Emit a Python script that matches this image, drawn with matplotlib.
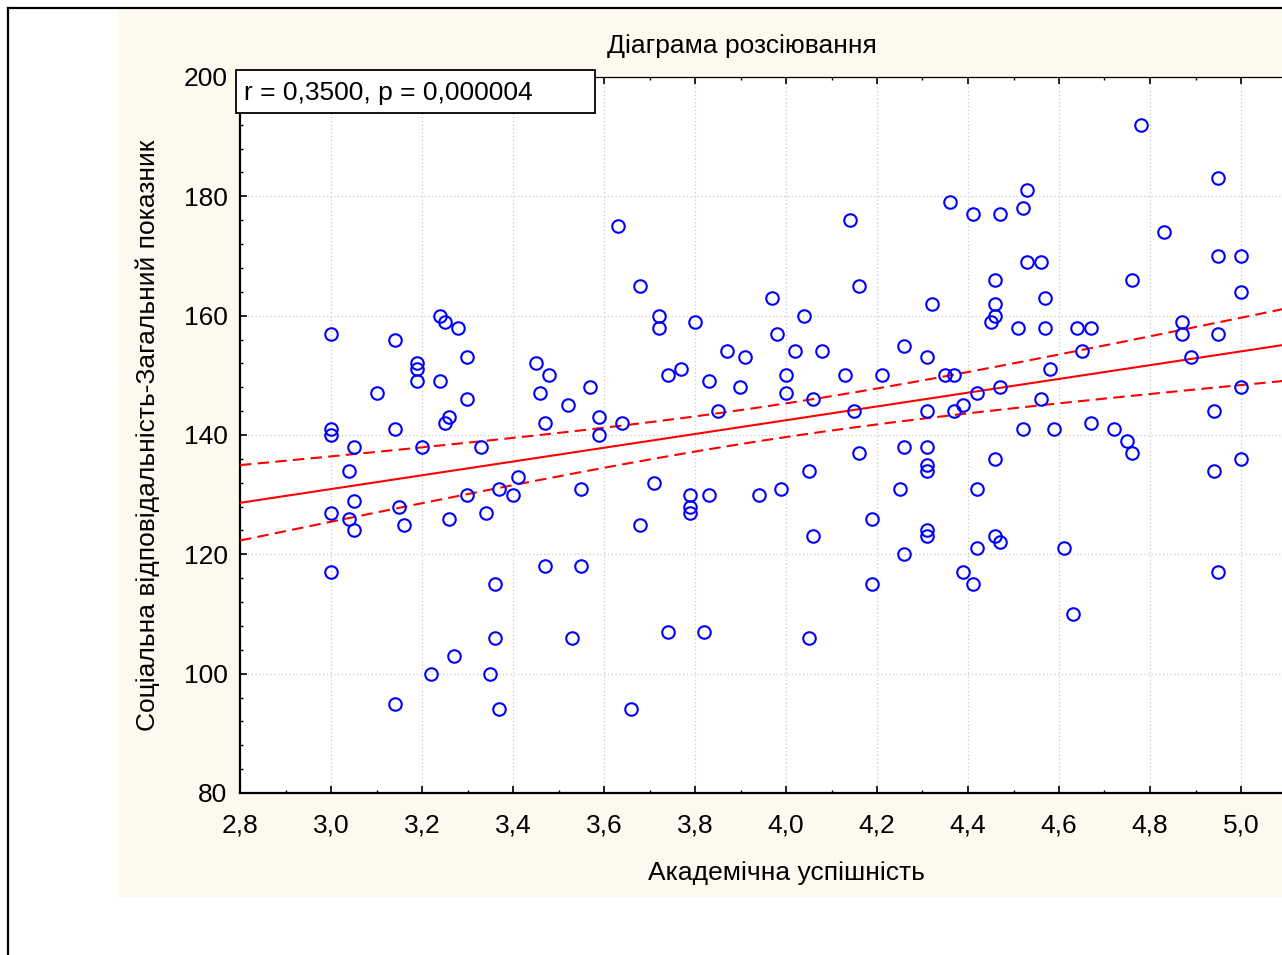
import numpy as np
import matplotlib
matplotlib.use("Agg")
import matplotlib.pyplot as plt
from matplotlib.lines import Line2D
from matplotlib.patches import Rectangle

plt.rcParams["font.family"] = ["Liberation Sans", "DejaVu Sans"]

TITLE     = "Діаграма розсіювання"
X_LABEL   = "Академічна успішність"
Y_LABEL   = "Соціальна відповідальність-Загальний показник"
STAT_TEXT = "r = 0,3500, p = 0,000004"

x_ticks       = [2.8, 3.0, 3.2, 3.4, 3.6, 3.8, 4.0, 4.2, 4.4, 4.6, 4.8, 5.0]
x_tick_labels = ["2,8", "3,0", "3,2", "3,4", "3,6", "3,8", "4,0", "4,2",
                 "4,4", "4,6", "4,8", "5,0"]
y_ticks       = [80, 100, 120, 140, 160, 180, 200]

# academic performance (x) and social responsibility score (y)
academic = [
    3.00, 3.00, 3.00, 3.00, 3.00, 3.04, 3.04, 3.05, 3.05, 3.05, 3.10,
    3.14, 3.14, 3.14, 3.15, 3.16, 3.19, 3.19, 3.19, 3.20, 3.22, 3.24, 3.24,
    3.25, 3.25, 3.26, 3.26, 3.27, 3.28, 3.30, 3.30, 3.30, 3.33, 3.34, 3.35,
    3.36, 3.36, 3.37, 3.37, 3.40, 3.41, 3.45, 3.46, 3.47, 3.47, 3.48, 3.52,
    3.53, 3.55, 3.55, 3.57, 3.59, 3.59, 3.63, 3.64, 3.66, 3.68, 3.68, 3.71,
    3.72, 3.72, 3.74, 3.74, 3.77, 3.79, 3.79, 3.79, 3.80, 3.82, 3.83, 3.83,
    3.85, 3.87, 3.90, 3.91, 3.94, 3.97, 3.98, 3.99, 4.00, 4.00, 4.02, 4.04,
    4.05, 4.05, 4.06, 4.06, 4.08, 4.13, 4.14, 4.15, 4.16, 4.16, 4.19, 4.19,
    4.21, 4.25, 4.26, 4.26, 4.26, 4.31, 4.31, 4.31, 4.31, 4.31, 4.31, 4.31,
    4.32, 4.35, 4.36, 4.37, 4.37, 4.39, 4.39, 4.41, 4.41, 4.42, 4.42, 4.42,
    4.45, 4.46, 4.46, 4.46, 4.46, 4.46, 4.47, 4.47, 4.47, 4.51, 4.52, 4.52,
    4.53, 4.53, 4.56, 4.56, 4.57, 4.57, 4.58, 4.59, 4.61, 4.63, 4.64, 4.65,
    4.67, 4.67, 4.72, 4.75, 4.76, 4.76, 4.78, 4.83, 4.87, 4.87, 4.89, 4.94,
    4.94, 4.95, 4.95, 4.95, 4.95, 5.00, 5.00, 5.00, 5.00,
]
social = [
    157, 141, 140, 127, 117, 134, 126, 138, 129, 124, 147,
    156, 141, 95, 128, 125, 152, 151, 149, 138, 100, 160, 149,
    159, 142, 143, 126, 103, 158, 153, 146, 130, 138, 127, 100,
    115, 106, 131, 94, 130, 133, 152, 147, 142, 118, 150, 145,
    106, 131, 118, 148, 143, 140, 175, 142, 94, 165, 125, 132,
    160, 158, 150, 107, 151, 130, 128, 127, 159, 107, 149, 130,
    144, 154, 148, 153, 130, 163, 157, 131, 150, 147, 154, 160,
    134, 106, 146, 123, 154, 150, 176, 144, 165, 137, 126, 115,
    150, 131, 155, 138, 120, 153, 144, 138, 135, 134, 124, 123,
    162, 150, 179, 150, 144, 145, 117, 177, 115, 147, 131, 121,
    159, 166, 162, 160, 136, 123, 177, 148, 122, 158, 178, 141,
    181, 169, 169, 146, 163, 158, 151, 141, 121, 110, 158, 154,
    158, 142, 141, 139, 166, 137, 192, 174, 159, 157, 153, 144,
    134, 183, 170, 157, 117, 170, 164, 148, 136,
]

T_CRIT = 1.974   # two-sided 95 % t quantile, n - 2 ~ 170 d.f.

W, H = 1282, 955
FS = 19


def fit_band(xs, ys, grid):
    xs = np.asarray(xs, float); ys = np.asarray(ys, float)
    slope, icpt = np.polyfit(xs, ys, 1)
    n = len(xs)
    resid = ys - (icpt + slope * xs)
    s = np.sqrt((resid ** 2).sum() / (n - 2))
    sxx = ((xs - xs.mean()) ** 2).sum()
    yhat = icpt + slope * grid
    half = T_CRIT * s * np.sqrt(1.0 / n + (grid - xs.mean()) ** 2 / sxx)
    return yhat, yhat - half, yhat + half


fig = plt.figure(figsize=(W / 100, H / 100), dpi=100)
fig.patch.set_facecolor("white")

# cream panel behind the graph + outer frame
fig.add_artist(Rectangle((118 / W, 1 - 897 / H), 1.0, (897 - 10) / H,
                         transform=fig.transFigure, facecolor="#fdf9ee",
                         edgecolor="none", zorder=-2))
fig.add_artist(Line2D([8 / W, 8 / W], [0, 1 - 8 / H], transform=fig.transFigure,
                      color="black", lw=1.6))
fig.add_artist(Line2D([8 / W, 1.0], [1 - 8 / H, 1 - 8 / H], transform=fig.transFigure,
                      color="black", lw=1.6))

ax = fig.add_axes([240 / W, 1 - 793 / H, 1092 / W, 716 / H])
ax.set_facecolor("white")
ax.set_xlim(2.8, 5.2); ax.set_ylim(80, 200)

grid = np.linspace(2.8, 5.2, 200)
yhat, lo, hi = fit_band(academic, social, grid)
ax.plot(grid, yhat, color="red", lw=1.5, zorder=3)
ax.plot(grid, lo, color="red", lw=1.5, ls=(0, (5.5, 3)), zorder=3)
ax.plot(grid, hi, color="red", lw=1.5, ls=(0, (5.5, 3)), zorder=3)
ax.plot(academic, social, "o", mfc="none", mec="blue", ms=9, mew=1.5,
        ls="none", zorder=4)

ax.set_xticks(x_ticks); ax.set_xticklabels(x_tick_labels)
ax.set_yticks(y_ticks)
ax.set_xticks(np.arange(2.8, 5.21, 0.1), minor=True)
ax.set_yticks(np.arange(80, 201, 4), minor=True)
ax.tick_params(which="both", direction="in", top=True, right=False,
               labelsize=FS, colors="black")
ax.tick_params(which="major", length=5, width=1.2)
ax.tick_params(which="minor", length=2.5, width=1.0)
ax.tick_params(axis="x", pad=15)
ax.tick_params(axis="y", pad=9)
ax.grid(which="major", color="#c8c8c8", lw=0.9, ls=(0, (1, 2)))
ax.set_axisbelow(True)

ax.spines["left"].set_linewidth(1.6)
ax.spines["bottom"].set_linewidth(1.6)
ax.spines["top"].set_linewidth(0.9)
ax.spines["right"].set_visible(False)

ax.set_xlabel(X_LABEL, fontsize=FS, labelpad=17)
ax.set_ylabel(Y_LABEL, fontsize=FS, labelpad=17)
fig.text(742 / W, 1 - 46 / H, TITLE, fontsize=FS, ha="center", va="center")

# statistics box at the top-left corner
fig.add_artist(Rectangle((236 / W, 1 - 113 / H), (595 - 236) / W, 43 / H,
                         transform=fig.transFigure, facecolor="white",
                         edgecolor="black", lw=1.3, zorder=5))
fig.text(244 / W, 1 - 93 / H, STAT_TEXT, fontsize=FS, ha="left", va="center",
         zorder=6)

fig.savefig("out.png", dpi=100)
plt.close(fig)
